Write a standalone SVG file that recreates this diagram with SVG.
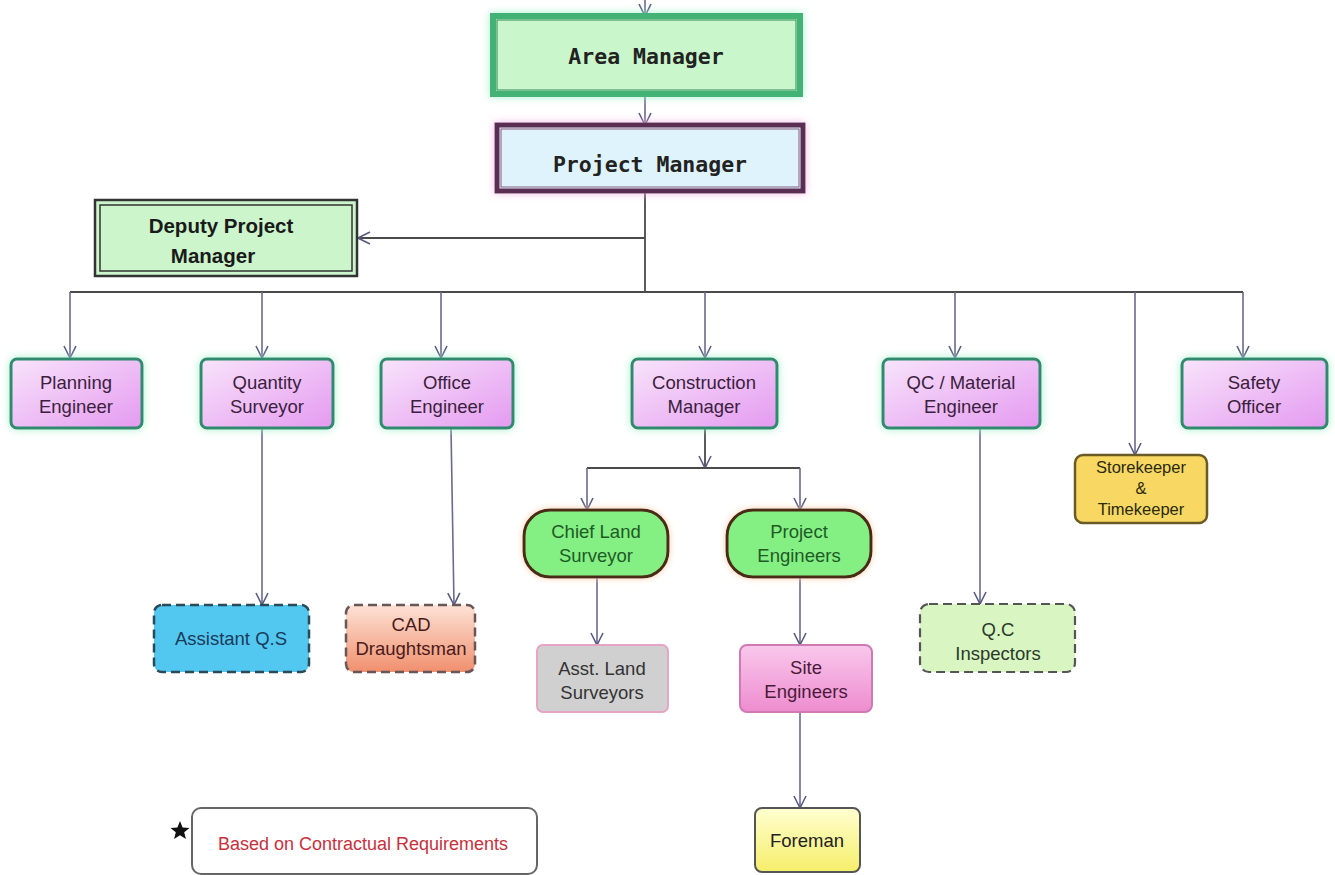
<svg xmlns="http://www.w3.org/2000/svg" width="1335" height="875" viewBox="0 0 1335 875">
<style>
.lv2 rect.b{fill:url(#gPurple);stroke:#2e8b6e;stroke-width:3;filter:url(#glowG)}
.t2{font-family:"Liberation Sans",Arial,sans-serif;text-anchor:middle}
.mono{font-family:"DejaVu Sans Mono","Liberation Mono",monospace;font-weight:bold;fill:#222;text-anchor:middle}
.ln{fill:none;stroke:#6a6a8c;stroke-width:1.6}
.bus{fill:none;stroke:#4a4a4a;stroke-width:1.8}
.ar{marker-end:url(#arr)}
</style>
<defs>
<marker id="arr" viewBox="0 0 14 14" refX="13" refY="7" markerWidth="14" markerHeight="14" markerUnits="userSpaceOnUse" orient="auto">
<path d="M1,1 L13,7 L1,13" fill="none" stroke="#5a5a80" stroke-width="1.6"/>
</marker>
<linearGradient id="gPurple" x1="0" y1="0" x2="1" y2="1">
<stop offset="0" stop-color="#f8e4fb"/><stop offset="1" stop-color="#e49af0"/>
</linearGradient>
<linearGradient id="gCad" x1="0" y1="0" x2="0" y2="1">
<stop offset="0" stop-color="#fde2d6"/><stop offset="1" stop-color="#f0906e"/>
</linearGradient>
<linearGradient id="gSite" x1="0" y1="0" x2="0" y2="1">
<stop offset="0" stop-color="#f9c8ec"/><stop offset="1" stop-color="#ee8ccf"/>
</linearGradient>
<linearGradient id="gFore" x1="0" y1="0" x2="0" y2="1">
<stop offset="0" stop-color="#ffffd0"/><stop offset="1" stop-color="#f6ee6a"/>
</linearGradient>
<filter id="glowG" x="-20%" y="-20%" width="140%" height="140%">
<feGaussianBlur in="SourceAlpha" stdDeviation="4" result="b"/>
<feFlood flood-color="#9ff0c8" flood-opacity="0.9"/>
<feComposite in2="b" operator="in" result="g"/>
<feMerge><feMergeNode in="g"/><feMergeNode in="SourceGraphic"/></feMerge>
</filter>
<filter id="glowP" x="-20%" y="-30%" width="140%" height="160%">
<feGaussianBlur in="SourceAlpha" stdDeviation="4" result="b"/>
<feFlood flood-color="#f2b4e4" flood-opacity="0.9"/>
<feComposite in2="b" operator="in" result="g"/>
<feMerge><feMergeNode in="g"/><feMergeNode in="SourceGraphic"/></feMerge>
</filter>
<filter id="glowO" x="-20%" y="-30%" width="140%" height="160%">
<feGaussianBlur in="SourceAlpha" stdDeviation="3" result="b"/>
<feFlood flood-color="#f8c8a0" flood-opacity="0.9"/>
<feComposite in2="b" operator="in" result="g"/>
<feMerge><feMergeNode in="g"/><feMergeNode in="SourceGraphic"/></feMerge>
</filter>
</defs>
<rect width="1335" height="875" fill="#ffffff"/>

<g id="connectors">
<line class="ln ar" x1="645" y1="0" x2="645" y2="16"/>
<line class="ln ar" x1="645" y1="94" x2="645" y2="125"/>
<line class="bus" x1="645" y1="191" x2="645" y2="292"/>
<line class="bus ar" x1="645" y1="238" x2="358" y2="238"/>
<line class="bus" x1="70" y1="292" x2="1243" y2="292"/>
<line class="ln ar" x1="70" y1="292" x2="70" y2="358"/>
<line class="ln ar" x1="262" y1="292" x2="262" y2="358"/>
<line class="ln ar" x1="441" y1="292" x2="441" y2="358"/>
<line class="ln ar" x1="705" y1="292" x2="705" y2="358"/>
<line class="ln ar" x1="955" y1="292" x2="955" y2="358"/>
<line class="ln ar" x1="1135" y1="292" x2="1135" y2="455"/>
<line class="ln ar" x1="1243" y1="292" x2="1243" y2="358"/>
<line class="bus ar" x1="705" y1="428" x2="705" y2="468"/>
<line class="bus" x1="587" y1="468" x2="800" y2="468"/>
<line class="ln ar" x1="587" y1="468" x2="587" y2="510"/>
<line class="ln ar" x1="800" y1="468" x2="800" y2="510"/>
<line class="ln ar" x1="262" y1="428" x2="262" y2="605"/>
<line class="ln ar" x1="451" y1="428" x2="454" y2="605"/>
<line class="ln ar" x1="980" y1="428" x2="980" y2="604"/>
<line class="ln ar" x1="597" y1="577" x2="597" y2="645"/>
<line class="ln ar" x1="800" y1="577" x2="800" y2="645"/>
<line class="ln ar" x1="800" y1="712" x2="800" y2="808"/>
</g>

<g id="area-manager">
<rect x="493" y="16" width="307" height="78" fill="#c9f7cb" stroke="#43b374" stroke-width="6" filter="url(#glowG)"/>
<rect x="497" y="20" width="299" height="70" fill="none" stroke="#2f8a56" stroke-width="1"/>
<text class="mono" x="646" y="64" font-size="21.5">Area Manager</text>
</g>

<g id="project-manager">
<rect x="497" y="125" width="306" height="66" fill="#def3fb" stroke="#5a2d52" stroke-width="5" filter="url(#glowP)"/>
<rect x="501" y="129" width="298" height="58" fill="none" stroke="#8a5a80" stroke-width="1"/>
<text class="mono" x="650" y="172" font-size="21.5">Project Manager</text>
</g>

<g id="deputy-project-manager">
<rect x="95" y="200" width="262" height="76" fill="#ccf5cc" stroke="#333" stroke-width="2.5"/>
<rect x="100" y="205" width="252" height="66" fill="none" stroke="#333" stroke-width="1.5"/>
<text x="221" y="233" font-family="Liberation Sans,Arial,sans-serif" font-size="20.5" font-weight="bold" fill="#1a1a1a" text-anchor="middle">Deputy Project</text>
<text x="213" y="263" font-family="Liberation Sans,Arial,sans-serif" font-size="20.5" font-weight="bold" fill="#1a1a1a" text-anchor="middle">Manager</text>
</g>

<g id="planning-engineer" class="lv2" font-size="18.5" fill="#3b2040">
<rect class="b" x="11" y="359" width="131" height="69" rx="6"/>
<text class="t2" x="76" y="389">Planning</text>
<text class="t2" x="76" y="413">Engineer</text>
</g>
<g id="quantity-surveyor" class="lv2" font-size="18.5" fill="#3b2040">
<rect class="b" x="201" y="359" width="132" height="69" rx="6"/>
<text class="t2" x="267" y="389">Quantity</text>
<text class="t2" x="267" y="413">Surveyor</text>
</g>
<g id="office-engineer" class="lv2" font-size="18.5" fill="#3b2040">
<rect class="b" x="381" y="359" width="132" height="69" rx="6"/>
<text class="t2" x="447" y="389">Office</text>
<text class="t2" x="447" y="413">Engineer</text>
</g>
<g id="construction-manager" class="lv2" font-size="18.5" fill="#3b2040">
<rect class="b" x="632" y="359" width="145" height="69" rx="6"/>
<text class="t2" x="704" y="389">Construction</text>
<text class="t2" x="704" y="413">Manager</text>
</g>
<g id="qc-material-engineer" class="lv2" font-size="18.5" fill="#3b2040">
<rect class="b" x="883" y="359" width="157" height="69" rx="6"/>
<text class="t2" x="961" y="389">QC / Material</text>
<text class="t2" x="961" y="413">Engineer</text>
</g>
<g id="safety-officer" class="lv2" font-size="18.5" fill="#3b2040">
<rect class="b" x="1182" y="359" width="145" height="69" rx="6"/>
<text class="t2" x="1254" y="389">Safety</text>
<text class="t2" x="1254" y="413">Officer</text>
</g>

<g id="storekeeper-timekeeper" font-size="16.5" fill="#2a2a10">
<rect x="1075" y="455" width="132" height="68" rx="8" fill="#f8d862" stroke="#6a5a24" stroke-width="2.5"/>
<text class="t2" x="1141" y="473">Storekeeper</text>
<text class="t2" x="1141" y="494">&amp;</text>
<text class="t2" x="1141" y="515">Timekeeper</text>
</g>

<g id="chief-land-surveyor" font-size="18.5" fill="#1f5a25">
<rect x="524" y="510" width="144" height="67" rx="26" fill="#84f084" stroke="#4a2a12" stroke-width="3" filter="url(#glowO)"/>
<text class="t2" x="596" y="538">Chief Land</text>
<text class="t2" x="596" y="562">Surveyor</text>
</g>
<g id="project-engineers" font-size="18.5" fill="#1f5a25">
<rect x="727" y="510" width="144" height="67" rx="26" fill="#84f084" stroke="#4a2a12" stroke-width="3" filter="url(#glowO)"/>
<text class="t2" x="799" y="538">Project</text>
<text class="t2" x="799" y="562">Engineers</text>
</g>

<g id="assistant-qs" font-size="18.5" fill="#1a3a5a">
<rect x="154" y="605" width="155" height="67" rx="8" fill="#52c8f0" stroke="#2a4a5a" stroke-width="2.5" stroke-dasharray="9 5"/>
<text class="t2" x="231" y="645">Assistant Q.S</text>
</g>
<g id="cad-draughtsman" font-size="18.5" fill="#4a1a1a">
<rect x="346" y="605" width="129" height="67" rx="8" fill="url(#gCad)" stroke="#6a5656" stroke-width="2.5" stroke-dasharray="9 5"/>
<text class="t2" x="411" y="631">CAD</text>
<text class="t2" x="411" y="655">Draughtsman</text>
</g>
<g id="asst-land-surveyors" font-size="18.5" fill="#333333">
<rect x="537" y="645" width="131" height="67" rx="6" fill="#d0d0d0" stroke="#e8a4c4" stroke-width="2"/>
<text class="t2" x="602" y="675">Asst. Land</text>
<text class="t2" x="602" y="699">Surveyors</text>
</g>
<g id="site-engineers" font-size="18.5" fill="#4a1a3a">
<rect x="740" y="645" width="132" height="67" rx="7" fill="url(#gSite)" stroke="#d07ab4" stroke-width="2"/>
<text class="t2" x="806" y="674">Site</text>
<text class="t2" x="806" y="698">Engineers</text>
</g>
<g id="qc-inspectors" font-size="18.5" fill="#2a3a2a">
<rect x="920" y="604" width="155" height="68" rx="9" fill="#d8f5c2" stroke="#555" stroke-width="2.2" stroke-dasharray="9 5"/>
<text class="t2" x="998" y="636">Q.C</text>
<text class="t2" x="998" y="660">Inspectors</text>
</g>
<g id="foreman" font-size="18.5" fill="#222222">
<rect x="755" y="808" width="105" height="64" rx="7" fill="url(#gFore)" stroke="#555" stroke-width="2"/>
<text class="t2" x="807" y="847">Foreman</text>
</g>

<g id="legend">
<rect x="192" y="808" width="345" height="66" rx="9" fill="#ffffff" stroke="#666" stroke-width="2"/>
<text x="363" y="850" font-family="Liberation Sans,Arial,sans-serif" font-size="18" fill="#c8303c" text-anchor="middle">Based on Contractual Requirements</text>
<polygon points="180,821 182.6,827.4 189.5,827.9 184.2,832.3 185.9,839 180,835.3 174.1,839 175.8,832.3 170.5,827.9 177.4,827.4" fill="#111"/>
</g>
</svg>
